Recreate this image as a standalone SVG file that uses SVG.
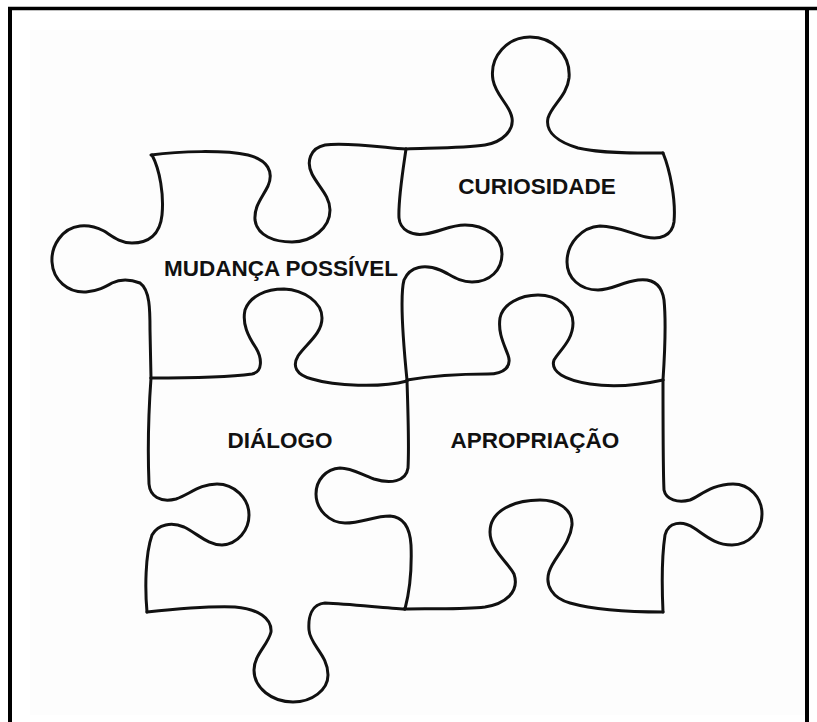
<svg xmlns="http://www.w3.org/2000/svg" width="817" height="722" viewBox="0 0 817 722">
<style>
.edge{fill:none;stroke:#111;stroke-width:3;stroke-linecap:round;stroke-linejoin:round}
.lbl{font-family:"Liberation Sans",Arial,sans-serif;font-weight:bold;font-size:22.5px;fill:#111;text-anchor:middle}
.frame{stroke:#000;fill:none}
</style>
<rect x="0" y="0" width="817" height="722" fill="#fff"/>
<rect x="30" y="30" width="777" height="685" fill="#fdfdfd"/>
<g id="frame">
<line class="frame" x1="10" y1="7" x2="10" y2="722" stroke-width="4"/>
<line class="frame" x1="8" y1="8.5" x2="817" y2="8.5" stroke-width="3.5"/>
<line class="frame" x1="807" y1="7" x2="807" y2="722" stroke-width="4"/>
</g>
<g id="piece-mudanca">
<path class="edge" d="M151,155 C180,151 225,150 248,155 C268,160 274,172 268,186 C262,198 254,206 255,220 C257,236 275,242 292,242 C312,242 330,228 330,210 C330,196 318,186 312,174 C306,162 310,148 325,145 C345,142 380,147 406,149"/>
<path class="edge" d="M152,155 C160,170 164,195 162,215 C160,235 148,243 132,243 C120,243 112,236 104,231 C96,227 88,225 80,226 C62,228 51,246 52,262 C53,280 68,293 86,292 C98,291 105,287 112,283 C120,279 130,279 140,283 C150,290 150,310 150,330 L151,378"/>
<path class="edge" d="M406,149 C403,170 398,200 399,218 C400,230 412,236 425,234 C440,232 450,225 465,225 C485,225 502,237 502,254 C502,270 490,282 472,282 C458,282 450,274 440,270 C425,264 410,266 404,280 C400,295 403,340 407,380"/>
<path class="edge" d="M151,378 C185,378 230,377 252,374 C263,372 262,358 256,348 C248,336 242,324 245,310 C250,296 266,289 284,289 C304,290 322,302 322,318 C322,334 306,344 298,356 C292,366 296,375 312,379 C335,386 380,388 407,381"/>
<text class="lbl" x="281" y="276">MUDANÇA POSSÍVEL</text>
</g>
<g id="piece-curiosidade">
<path class="edge" d="M406,149 C430,148 465,148 485,145 C503,142 514,130 512,118 C510,105 496,96 493,80 C489,56 508,37 530,37 C553,37 571,55 569,78 C567,96 552,105 548,118 C545,132 558,142 578,148 C605,154 640,153 663,153"/>
<path class="edge" d="M663,153 C670,170 676,200 674,222 C672,236 660,240 646,237 C632,234 618,226 600,226 C582,227 567,243 567,262 C567,278 580,290 598,290 C612,290 622,282 638,280 C654,278 662,286 664,300 C666,320 665,350 663,380"/>
<path class="edge" d="M407,380 C430,376 465,374 488,374 C505,374 512,366 508,355 C503,342 498,332 500,318 C503,304 520,295 538,295 C558,295 573,308 573,323 C573,340 560,350 554,360 C550,372 565,380 590,384 C615,388 640,385 663,380"/>
<text class="lbl" x="537" y="194">CURIOSIDADE</text>
</g>
<g id="piece-dialogo">
<path class="edge" d="M405,609 C385,608 350,604 325,603 C312,604 308,616 309,630 C310,645 328,655 328,675 C328,690 312,702 293,702 C272,702 254,688 254,670 C254,655 268,645 271,632 C272,618 258,609 235,607 C210,606 175,609 147,612"/>
<path class="edge" d="M147,612 C145,590 145,555 152,535 C158,524 172,522 184,527 C198,534 208,545 222,545 C238,544 249,530 249,515 C249,498 234,484 217,484 C200,484 190,494 176,499 C160,503 150,496 149,484 C148,460 148,420 151,378"/>
<text class="lbl" x="280" y="448">DIÁLOGO</text>
</g>
<g id="piece-apropriacao">
<path class="edge" d="M663,380 C663,420 663,470 664,490 C666,500 678,503 690,500 C700,496 712,484 733,484 C750,484 762,498 762,514 C762,532 748,545 732,545 C715,545 705,535 694,528 C682,520 668,522 665,535 C662,555 662,590 663,612"/>
<path class="edge" d="M663,612 C630,612 595,610 570,603 C552,598 545,585 549,572 C553,558 570,545 572,525 C573,508 556,500 540,500 C515,500 490,510 490,532 C490,550 508,562 514,574 C520,592 505,604 485,607 C460,610 425,608 404,609"/>
<path class="edge" d="M407,381 C408,410 409,450 408,468 C406,482 390,484 374,479 C360,474 352,468 340,468 C326,469 316,480 316,494 C316,510 330,523 345,523 C362,523 374,516 390,516 C404,517 410,528 411,545 C412,570 410,590 405,609"/>
<text class="lbl" x="535" y="448">APROPRIAÇÃO</text>
</g>
</svg>
